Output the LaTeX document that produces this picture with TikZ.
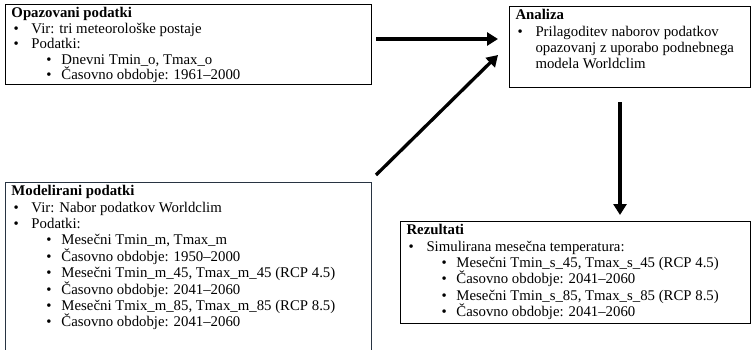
\documentclass[tikz,border=0pt]{standalone}
\usepackage{fontspec}
\setmainfont{Liberation Serif}
\usetikzlibrary{arrows.meta, calc}
\definecolor{slate}{RGB}{40,52,66}
\tikzstyle{box} = [rectangle, draw=black, line width=1pt, anchor=north west, inner xsep=6pt, inner ysep=3pt, font=\fontsize{14.8}{16.4}\selectfont]
\tikzstyle{arrow} = [line width=3.3pt, -{Triangle[length=11pt,width=13pt]}]
\newcommand{\itA}[1]{\hspace*{2pt}\makebox[18pt][l]{\textbullet}#1}
\newcommand{\itB}[1]{\hspace*{35pt}\makebox[15pt][l]{\textbullet}#1}
\newcommand{\boxtext}[3]{\parbox[c][#2][t]{#1}{\setlength{\parindent}{0pt}\raggedright #3}}

\begin{document}
\begin{tikzpicture}[x=1pt, y=-1pt]
\useasboundingbox (0,0) rectangle (752,349);
% boxes
\node (opazovani) [box, font=\fontsize{14.8}{15.5}\selectfont] at (5,4) {\boxtext{354pt}{74pt}{%
 \textbf{Opazovani podatki}\\
 \itA{Vir: tri meteorološke postaje}\\
 \itA{Podatki:}\\
 \itB{Dnevni Tmin\_o, Tmax\_o}\\
 \itB{Časovno obdobje: 1961--2000}}};
\node (analiza) [box] at (509,6) {\boxtext{229pt}{75pt}{%
 \textbf{Analiza}\\
 \itA{Prilagoditev naborov podatkov}\\
 \hspace*{20pt}opazovanj z uporabo podnebnega\\
 \hspace*{20pt}modela Worldclim}};
\node (modelirani) [box, draw=slate] at (5,182) {\boxtext{354pt}{171pt}{%
 \textbf{Modelirani podatki}\\
 \itA{Vir: Nabor podatkov Worldclim}\\
 \itA{Podatki:}\\
 \itB{Mesečni Tmin\_m, Tmax\_m}\\
 \itB{Časovno obdobje: 1950--2000}\\
 \itB{Mesečni Tmin\_m\_45, Tmax\_m\_45 (RCP 4.5)}\\
 \itB{Časovno obdobje: 2041--2060}\\
 \itB{Mesečni Tmix\_m\_85, Tmax\_m\_85 (RCP 8.5)}\\
 \itB{Časovno obdobje: 2041--2060}}};
\node (rezultati) [box] at (400,221) {\boxtext{338pt}{96pt}{%
 \textbf{Rezultati}\\
 \itA{Simulirana mesečna temperatura:}\\
 \itB{Mesečni Tmin\_s\_45, Tmax\_s\_45 (RCP 4.5)}\\
 \itB{Časovno obdobje: 2041--2060}\\
 \itB{Mesečni Tmin\_s\_85, Tmax\_s\_85 (RCP 8.5)}\\
 \itB{Časovno obdobje: 2041--2060}}};
% arrows
\draw[arrow] ([shift={(4,35)}]opazovani.north east) -- ([shift={(-11,33)}]analiza.north west);
\draw[arrow] ([shift={(4,-7)}]modelirani.north east) -- ([shift={(-11,49)}]analiza.north west);
\draw[arrow] ([shift={(-10,14)}]analiza.south) -- ([shift={(220,-6)}]rezultati.north west);
\end{tikzpicture}
\end{document}
